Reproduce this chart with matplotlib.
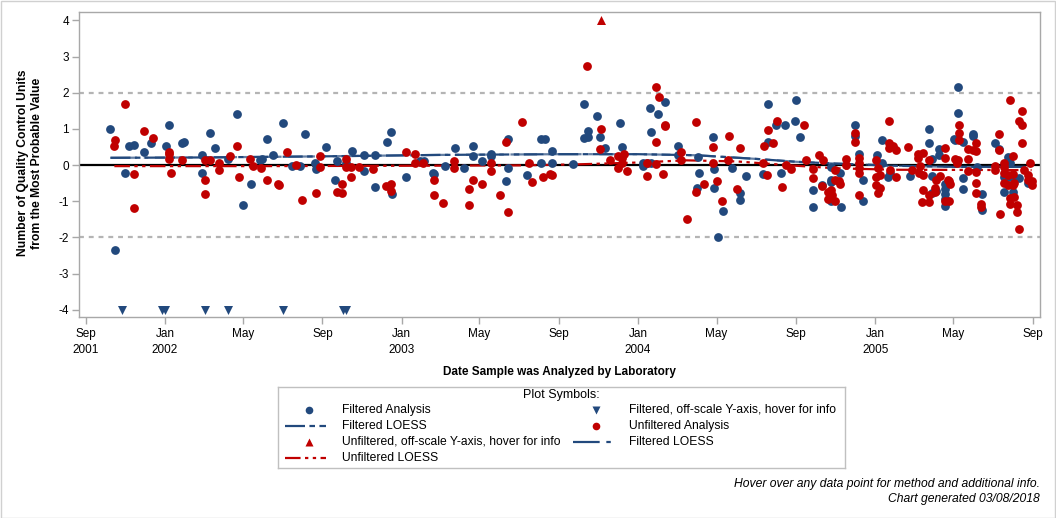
import numpy as np
import matplotlib
matplotlib.use('Agg')
import matplotlib.pyplot as plt
from matplotlib.patches import Rectangle

plt.rcParams['font.family'] = ['Liberation Sans', 'DejaVu Sans']

BLUE = '#22497d'
RED = '#c00000'

# filtered analysis (blue circles)
filt_dates = [
    '2001-10-09', '2001-10-16', '2001-10-31', '2001-11-06', '2001-11-14', '2001-11-30',
    '2001-12-11', '2002-01-03', '2002-01-07', '2002-01-27', '2002-01-30', '2002-02-27',
    '2002-02-27', '2002-03-12', '2002-03-19', '2002-04-08', '2002-04-22', '2002-05-02',
    '2002-05-14', '2002-05-28', '2002-05-31', '2002-06-07', '2002-06-16', '2002-07-02',
    '2002-07-16', '2002-07-28', '2002-08-05', '2002-08-20', '2002-08-22', '2002-09-06',
    '2002-09-20', '2002-09-24', '2002-10-07', '2002-10-16', '2002-11-04', '2002-11-04',
    '2002-11-21', '2002-11-21', '2002-12-10', '2002-12-16', '2002-12-17', '2003-01-08',
    '2003-01-29', '2003-02-05', '2003-02-19', '2003-02-20', '2003-03-09', '2003-03-25',
    '2003-04-08', '2003-04-21', '2003-04-21', '2003-05-05', '2003-05-19', '2003-05-19',
    '2003-06-11', '2003-06-15', '2003-06-15', '2003-07-14', '2003-08-04', '2003-08-11',
    '2003-08-04', '2003-08-21', '2003-08-21', '2003-09-23', '2003-10-10', '2003-10-10',
    '2003-10-16', '2003-10-16', '2003-10-29', '2003-11-03', '2003-11-11', '2003-12-04',
    '2003-12-07', '2004-01-09', '2004-01-09', '2004-01-15', '2004-01-21', '2004-01-19',
    '2004-01-21', '2004-02-01', '2004-02-12', '2004-03-03', '2004-03-03', '2004-04-04',
    '2004-04-01', '2004-04-02', '2004-04-26', '2004-04-27', '2004-04-27', '2004-05-11',
    '2004-05-04', '2004-05-25', '2004-06-06', '2004-06-06', '2004-06-15', '2004-07-12',
    '2004-07-20', '2004-07-20', '2004-08-01', '2004-08-15', '2004-08-09', '2004-08-30',
    '2004-09-01', '2004-09-07', '2004-09-27', '2004-09-27', '2004-10-11', '2004-10-24',
    '2004-10-24', '2004-10-25', '2004-11-08', '2004-11-09', '2004-10-24', '2004-12-01',
    '2004-12-01', '2004-12-06', '2004-12-13', '2004-12-13', '2005-01-04', '2005-01-11',
    '2005-01-11', '2005-01-21', '2005-01-23', '2005-02-24', '2005-03-24', '2005-03-24',
    '2005-03-30', '2005-03-30', '2005-04-09', '2005-04-09', '2005-03-30', '2005-04-05',
    '2005-04-18', '2005-04-18', '2005-04-18', '2005-04-19', '2005-04-19', '2005-05-03',
    '2005-05-04', '2005-05-09', '2005-05-09', '2005-05-16', '2005-05-16', '2005-05-16',
    '2005-06-01', '2005-06-01', '2005-06-07', '2005-06-15', '2005-06-15', '2005-07-05',
    '2005-07-10', '2005-07-25', '2005-07-27', '2005-07-18', '2005-07-25', '2005-08-02',
    '2005-08-10', '2005-07-18', '2005-08-02', '2005-08-25']
filt_vals = [
    0.99, -2.35, -0.23, 0.52, 0.55, 0.35,
    0.60, 0.54, 1.12, 0.60, 0.65, 0.28,
    -0.23, 0.88, 0.46, 0.16, 1.40, -1.10,
    -0.53, 0.15, 0.18, 0.71, 0.27, 1.15,
    -0.04, -0.04, 0.85, 0.07, -0.12, 0.49,
    -0.42, 0.10, 0.07, 0.38, 0.27, -0.17,
    0.27, -0.62, 0.65, 0.90, -0.81, -0.34,
    0.10, 0.10, -0.23, -0.26, -0.04, 0.46,
    -0.09, 0.54, 0.24, 0.10, 0.30, 0.24,
    -0.45, 0.71, -0.09, -0.28, 0.71, 0.71,
    0.05, 0.38, 0.07, 0.02, 1.68, 0.74,
    0.77, 0.93, 1.35, 0.77, 0.46, 1.15,
    0.49, 0.05, -0.04, 0.07, 0.05, 1.57,
    0.90, 1.40, 1.73, 0.52, 0.27, -0.23,
    -0.64, 0.21, 0.77, -0.12, -0.64, -1.28,
    -2.00, -0.09, -0.78, -0.98, -0.31, -0.26,
    1.70, 0.63, 1.12, 1.12, -0.23, 1.21,
    1.81, 0.77, -0.70, -1.17, -0.56, -0.06,
    -0.40, -0.48, -0.23, -1.17, -1.00, 1.12,
    0.79, 0.30, -0.40, -1.00, 0.27, 0.68,
    0.05, -0.34, -0.23, -0.31, 0.99, 0.60,
    0.16, -0.31, 0.43, 0.27, -0.78, -0.73,
    -0.53, -0.67, -0.81, -1.14, -0.94, 0.71,
    0.68, 2.15, 1.43, 0.63, -0.37, -0.67,
    0.85, 0.79, -0.06, -0.81, -1.25, 0.60,
    0.43, 0.21, 0.05, -0.34, -0.34, -0.37,
    -0.37, -0.75, -0.75, -0.51]

# unfiltered analysis (red circles)
unf_dates = [
    '2001-10-15', '2001-10-16', '2001-10-31', '2001-11-14', '2001-11-14', '2001-11-30',
    '2001-12-13', '2002-01-07', '2002-01-07', '2002-01-07', '2002-01-10', '2002-01-27',
    '2002-03-04', '2002-03-12', '2002-03-04', '2002-03-04', '2002-03-26', '2002-03-26',
    '2002-04-11', '2002-04-22', '2002-04-25', '2002-05-12', '2002-05-17', '2002-05-29',
    '2002-06-07', '2002-06-24', '2002-06-26', '2002-07-08', '2002-07-22', '2002-07-31',
    '2002-08-22', '2002-08-28', '2002-08-28', '2002-09-24', '2002-10-01', '2002-10-01',
    '2002-10-07', '2002-10-07', '2002-10-15', '2002-10-15', '2002-10-27', '2002-11-18',
    '2002-12-08', '2002-12-16', '2002-12-16', '2003-01-08', '2003-01-22', '2003-01-22',
    '2003-02-03', '2003-02-20', '2003-02-20', '2003-03-06', '2003-03-23', '2003-03-23',
    '2003-04-15', '2003-04-15', '2003-04-21', '2003-05-05', '2003-05-19', '2003-05-19',
    '2003-06-02', '2003-06-11', '2003-06-15', '2003-07-06', '2003-07-17', '2003-07-21',
    '2003-08-07', '2003-08-18', '2003-08-21', '2003-10-14', '2003-11-05', '2003-11-03',
    '2003-11-19', '2003-12-01', '2003-12-01', '2003-12-07', '2003-12-10', '2003-12-07',
    '2003-12-15', '2004-01-15', '2004-01-15', '2004-01-29', '2004-02-02', '2004-01-29',
    '2004-01-29', '2004-02-12', '2004-02-12', '2004-02-09', '2004-03-07', '2004-03-07',
    '2004-03-16', '2004-03-31', '2004-03-31', '2004-04-12', '2004-04-26', '2004-04-26',
    '2004-05-02', '2004-05-10', '2004-05-20', '2004-05-19', '2004-06-06', '2004-06-01',
    '2004-07-12', '2004-07-13', '2004-07-18', '2004-07-20', '2004-07-27', '2004-08-02',
    '2004-08-10', '2004-08-16', '2004-08-24', '2004-09-13', '2004-09-16', '2004-09-27',
    '2004-09-27', '2004-10-06', '2004-10-12', '2004-10-11', '2004-10-20', '2004-10-24',
    '2004-10-20', '2004-10-26', '2004-10-31', '2004-10-31', '2004-10-31', '2004-11-06',
    '2004-11-08', '2004-11-17', '2004-11-17', '2004-12-01', '2004-12-01', '2004-12-06',
    '2004-12-06', '2004-12-06', '2004-12-06', '2004-12-06', '2005-01-02', '2005-01-05',
    '2005-01-02', '2005-01-08', '2005-01-02', '2005-01-05', '2005-01-08', '2005-01-22',
    '2005-01-22', '2005-01-22', '2005-01-28', '2005-02-02', '2005-01-23', '2005-02-02',
    '2005-02-21', '2005-02-27', '2005-03-08', '2005-03-08', '2005-03-16', '2005-03-11',
    '2005-03-09', '2005-03-16', '2005-03-24', '2005-03-16', '2005-03-24', '2005-03-24',
    '2005-03-14', '2005-04-03', '2005-04-03', '2005-04-05', '2005-04-11', '2005-04-18',
    '2005-04-18', '2005-04-23', '2005-04-25', '2005-04-26', '2005-04-18', '2005-04-25',
    '2005-05-04', '2005-05-07', '2005-05-09', '2005-05-10', '2005-05-10', '2005-05-10',
    '2005-05-24', '2005-05-24', '2005-06-01', '2005-06-06', '2005-06-06', '2005-05-24',
    '2005-06-06', '2005-06-06', '2005-06-06', '2005-06-13', '2005-06-13', '2005-07-05',
    '2005-07-05', '2005-07-11', '2005-07-11', '2005-07-13', '2005-07-18', '2005-07-19',
    '2005-07-18', '2005-07-25', '2005-07-19', '2005-07-25', '2005-07-27', '2005-08-02',
    '2005-08-02', '2005-08-03', '2005-08-02', '2005-07-27', '2005-08-03', '2005-07-27',
    '2005-08-07', '2005-08-07', '2005-08-10', '2005-08-15', '2005-08-15', '2005-08-16',
    '2005-08-10', '2005-08-19', '2005-08-28', '2005-08-24', '2005-08-24', '2005-08-30',
    '2005-08-30']
unf_vals = [
    0.52, 0.69, 1.68, -0.26, -1.20, 0.94,
    0.74, 0.36, 0.30, 0.18, -0.23, 0.13,
    0.13, 0.13, -0.40, -0.81, 0.05, -0.15,
    0.24, 0.52, -0.34, 0.18, -0.04, -0.09,
    -0.42, -0.53, -0.56, 0.35, -0.01, -0.98,
    -0.78, 0.24, -0.06, -0.75, -0.53, -0.78,
    0.16, -0.06, -0.06, -0.34, -0.06, -0.12,
    -0.59, -0.53, -0.73, 0.35, 0.30, 0.07,
    0.05, -0.42, -0.84, -1.06, 0.10, -0.09,
    -0.67, -1.11, -0.40, -0.53, 0.07, -0.17,
    -0.84, 0.65, -1.31, 1.18, 0.07, -0.48,
    -0.34, -0.26, -0.28, 2.75, 0.99, 0.43,
    0.13, 0.24, -0.09, 0.19, 0.30, 0.07,
    -0.17, 0.05, -0.31, 2.15, 1.87, 0.63,
    0.02, 1.12, 1.07, -0.26, 0.35, 0.13,
    -1.50, 1.18, -0.75, -0.53, 0.49, 0.07,
    -0.45, -1.00, 0.79, 0.13, 0.46, -0.67,
    0.05, 0.52, -0.28, 0.96, 0.60, 1.21,
    -0.62, -0.01, -0.12, 1.12, 0.13, -0.12,
    -0.37, 0.27, 0.13, -0.59, -0.75, -0.70,
    -0.93, -0.83, -0.99, -0.15, -0.40, -0.45,
    -0.53, 0.16, -0.01, 0.88, 0.63, 0.19,
    0.05, -0.09, -0.23, -0.84, 0.13, -0.09,
    -0.34, -0.28, -0.56, -0.78, -0.64, 1.21,
    0.60, 0.46, 0.52, 0.41, -0.15, -0.34,
    0.49, -0.15, 0.30, 0.19, 0.32, -0.03,
    -0.23, -0.28, 0.13, -0.70, -0.84, -1.03,
    -1.03, -0.64, -0.75, -0.40, -0.31, 0.46,
    0.19, -0.40, -0.45, -0.53, -1.00, -1.00,
    0.16, 0.05, 0.13, 1.12, 0.88, 0.68,
    0.16, 0.43, 0.41, 0.38, 0.60, -0.17,
    -0.20, -0.51, -0.78, -1.09, -1.17, -0.04,
    -0.15, 0.85, 0.41, -1.36, 0.05, -0.06,
    -0.23, -0.28, -0.51, -0.56, 1.81, 0.24,
    -0.26, -0.51, -0.56, -0.91, -0.88, -1.09,
    -1.11, -1.31, 1.23, 1.10, 1.48, 0.60,
    -1.78, -0.15, 0.05, -0.28, -0.40, -0.45,
    -0.56]

# off-scale points, pinned at the axis ends
filt_off_dates = ['2001-10-27', '2001-12-27', '2002-01-01', '2002-03-04', '2002-04-09',
                  '2002-07-02', '2002-10-03', '2002-10-08']
filt_off_vals = [-4, -4, -4, -4, -4, -4, -4, -4]
unf_off_dates = ['2003-11-04']
unf_off_vals = [4]

# LOESS curves
loess_f_dates = ['2001-10-09', '2002-03-01', '2002-09-01', '2003-03-01', '2003-09-01',
                 '2004-01-01', '2004-04-01', '2004-07-01', '2004-09-01', '2004-11-01',
                 '2005-02-01', '2005-05-01', '2005-08-28']
loess_f_vals = [0.20, 0.21, 0.24, 0.28, 0.30, 0.30, 0.27, 0.17, 0.09, 0.04, -0.02, -0.05, -0.05]
loess_u_dates = ['2001-10-15', '2002-06-01', '2003-01-01', '2003-07-01', '2003-10-01',
                 '2004-01-01', '2004-03-15', '2004-06-01', '2004-09-01', '2004-11-01',
                 '2005-02-01', '2005-08-30']
loess_u_vals = [-0.03, -0.03, -0.02, -0.01, 0.02, 0.07, 0.13, 0.10, -0.02, -0.09, -0.13, -0.14]

tick_dates = ['2001-09-01', '2002-01-01', '2002-05-01', '2002-09-01', '2003-01-01',
              '2003-05-01', '2003-09-01', '2004-01-01', '2004-05-01', '2004-09-01',
              '2005-01-01', '2005-05-01', '2005-09-01']
tick_labels = ['Sep\n2001', 'Jan\n2002', 'May', 'Sep', 'Jan\n2003', 'May', 'Sep',
               'Jan\n2004', 'May', 'Sep', 'Jan\n2005', 'May', 'Sep']
ytick_vals = [-4, -3, -2, -1, 0, 1, 2, 3, 4]


def d(lst):
    return np.array(lst, dtype='datetime64[D]')


W, H = 1056, 518
fig = plt.figure(figsize=(W / 100, H / 100), dpi=100)
ax = fig.add_axes([78.7 / W, 1 - 317 / H, (1040 - 78.7) / W, (317 - 12) / H])

ax.axhline(0, color='black', lw=1.6, zorder=2)
for yv in (2, -2):
    ax.axhline(yv, color='#b4b4b4', lw=1.6, dashes=(2.2, 2.2), zorder=1)

lw_loess = 1.6
ax.plot(d(loess_f_dates), loess_f_vals, color=BLUE, lw=lw_loess, dashes=(9, 2, 2.5, 2), zorder=3)
ax.plot(d(loess_f_dates), loess_f_vals, color=BLUE, lw=lw_loess, dashes=(12, 3, 2, 3), zorder=3,
        alpha=0.7)
ax.plot(d(loess_u_dates), loess_u_vals, color=RED, lw=lw_loess, dashes=(7, 2, 1.5, 2, 1.5, 2), zorder=3)

ms = 40
ax.scatter(d(filt_dates), filt_vals, s=ms, color=BLUE, linewidths=0, zorder=4)
ax.scatter(d(unf_dates), unf_vals, s=ms, color=RED, linewidths=0, zorder=5)
ax.scatter(d(filt_off_dates), filt_off_vals, s=42, marker='v', color=BLUE, linewidths=0, zorder=5)
ax.scatter(d(unf_off_dates), unf_off_vals, s=42, marker='^', color=RED, linewidths=0, zorder=5)

ax.set_xlim(np.datetime64('2001-08-21'), np.datetime64('2005-09-12'))
ax.set_ylim(-4.20, 4.23)
ax.set_xticks(d(tick_dates))
ax.set_xticklabels(tick_labels)
ax.set_yticks(ytick_vals)
ax.set_yticklabels([str(v) for v in ytick_vals])

for s in ax.spines.values():
    s.set_color('#a8a8a8')
    s.set_linewidth(1.0)
ax.tick_params(axis='both', colors='#a8a8a8', labelcolor='black', labelsize=8.5, length=5,
               width=1.0, direction='out')
ax.tick_params(axis='x', pad=3)
ax.tick_params(axis='y', pad=2)
for lab in ax.get_xticklabels():
    lab.set_linespacing(1.45)

fig.text(30 / W, 1 - 163 / H, 'Number of Quality Control Units\nfrom the Most Probable Value',
         rotation=90, ha='center', va='center', fontsize=8.7, fontweight='bold', linespacing=1.15)
fig.text(559 / W, 1 - 372 / H, 'Date Sample was Analyzed by Laboratory',
         ha='center', va='center', fontsize=8.5, fontweight='bold')

# legend panel
lax = fig.add_axes([278 / W, 1 - 468 / H, (845 - 278) / W, (468 - 387) / H])
lax.set_xlim(278, 845)
lax.set_ylim(468, 387)
lax.set_xticks([])
lax.set_yticks([])
for s in lax.spines.values():
    s.set_color('#c0c0c0')
    s.set_linewidth(1.0)
lax.text(561, 395, 'Plot Symbols:', ha='center', va='center', fontsize=9)

rows = [410, 426, 442, 458]
col_sym = [309, 596]
col_line = [(285, 326), (573, 611)]
col_txt = [342, 629]
entries = [
    (0, 0, 'marker', dict(marker='o', color=BLUE, ms=5.5), 'Filtered Analysis'),
    (1, 0, 'marker', dict(marker='v', color=BLUE, ms=6), 'Filtered, off-scale Y-axis, hover for info'),
    (0, 1, 'line', dict(color=BLUE, dashes=(9, 2, 2.5, 2)), 'Filtered LOESS'),
    (1, 1, 'marker', dict(marker='o', color=RED, ms=5.5), 'Unfiltered Analysis'),
    (0, 2, 'marker', dict(marker='^', color=RED, ms=6), 'Unfiltered, off-scale Y-axis, hover for info'),
    (1, 2, 'line', dict(color=BLUE, dashes=(12, 3, 2, 3)), 'Filtered LOESS'),
    (0, 3, 'line', dict(color=RED, dashes=(7, 2, 1.5, 2, 1.5, 2)), 'Unfiltered LOESS'),
]
for c, r, kind, kw, label in entries:
    y = rows[r]
    if kind == 'marker':
        lax.plot([col_sym[c]], [y], ls='none', mec='none', **kw)
    else:
        lax.plot(list(col_line[c]), [y, y], lw=1.6, **kw)
    lax.text(col_txt[c], y, label, ha='left', va='center', fontsize=8.7)

fig.text(1040 / W, 1 - 484 / H, 'Hover over any data point for method and additional info.',
         ha='right', va='center', fontsize=8.7, style='italic')
fig.text(1040 / W, 1 - 499 / H, 'Chart generated 03/08/2018',
         ha='right', va='center', fontsize=8.7, style='italic')

fig.patches.append(Rectangle((0.5 / W, 0.5 / H), 1 - 1.5 / W, 1 - 1.5 / H, transform=fig.transFigure,
                             fill=False, edgecolor='#d0d0d0', lw=1.0))

fig.savefig('out.png', dpi=100)
